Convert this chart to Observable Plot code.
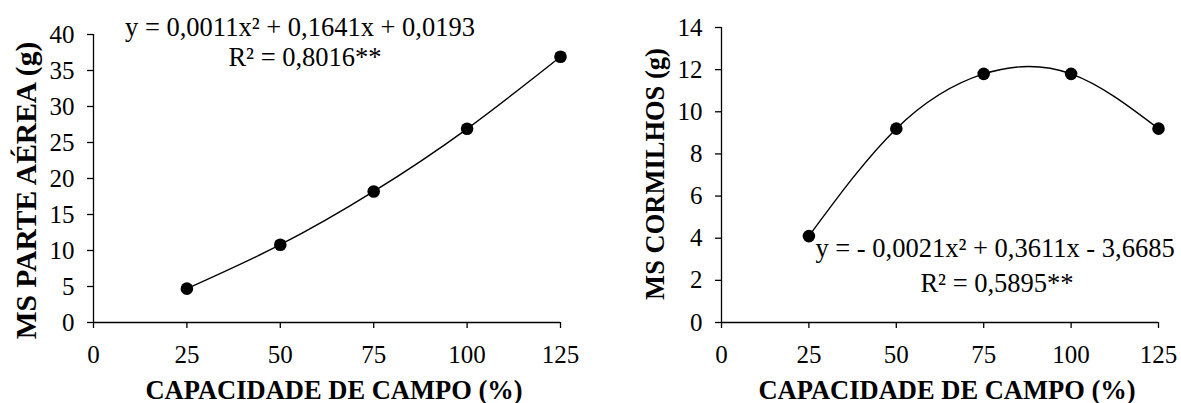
<!DOCTYPE html>
<html><head><meta charset="utf-8">
<script src="https://cdn.jsdelivr.net/npm/d3@7"></script>
<script src="https://cdn.jsdelivr.net/npm/@observablehq/plot@0.6"></script>
<style>
body{margin:0;background:#fff}
#wrap{display:flex;width:1181px;height:403px}
#wrap svg{display:block;overflow:visible}
#wrap svg, #wrap svg text, #wrap svg g{font-family:"Liberation Serif", serif !important}
</style></head><body><div id="wrap"></div>
<script>
const capacidade = [25, 50, 75, 100, 125];
const msParteAerea = [4.7, 10.8, 18.2, 26.9, 36.9];
const msCormilhos = [4.1, 9.2, 11.8, 11.8, 9.2];
const xTicks = [0, 25, 50, 75, 100, 125];
const yTicksParte = [0, 5, 10, 15, 20, 25, 30, 35, 40];
const yTicksCorm = [0, 2, 4, 6, 8, 10, 12, 14];
const xTitle = "CAPACIDADE DE CAMPO (%)";
const yTitleParte = "MS PARTE AÉREA (g)";
const yTitleCorm = "MS CORMILHOS (g)";
const eqParte = ["y = 0,0011x² + 0,1641x + 0,0193", "R² = 0,8016**"];
const eqCorm = ["y = - 0,0021x² + 0,3611x - 3,6685", "R² = 0,5895**"];

const FONT = "Liberation Serif";

function panel({values, yMax, yTicks, yTitle, eq, width, marginLeft, marginRight, marginTop, marginBottom, eqPos, yTitlePos, yTitleSize}) {
  const data = capacidade.map((c, i) => ({x: c, y: values[i]}));
  return Plot.plot({
    width, height: 403,
    marginLeft, marginRight, marginTop, marginBottom,
    style: {fontFamily: FONT, fontSize: "25px", color: "#000", background: "#fff", overflow: "visible"},
    x: {domain: [0, 125]},
    y: {domain: [0, yMax]},
    marks: [
      Plot.axisX({ticks: xTicks, tickSize: 6, tickPadding: 17, label: null, strokeWidth: 1.3, fontSize: 25, fontVariant: "normal"}),
      Plot.axisY({ticks: yTicks, tickSize: 6, tickPadding: 13, label: null, strokeWidth: 1.3, fontSize: 25, fontVariant: "normal"}),
      Plot.ruleY([0], {stroke: "#000", strokeWidth: 1.3}),
      Plot.ruleX([0], {stroke: "#000", strokeWidth: 1.3}),
      Plot.line(data, {x: "x", y: "y", curve: "natural", stroke: "#000", strokeWidth: 1.4}),
      Plot.dot(data, {x: "x", y: "y", r: 6.3, fill: "#000", stroke: null}),
      Plot.text([xTitle], {frameAnchor: "bottom", lineAnchor: "bottom", dx: 7, dy: 76, fontWeight: "bold", fontSize: 26.5, fill: "#000"}),
      Plot.text([yTitle], {frameAnchor: "left", rotate: -90, textAnchor: "middle", lineAnchor: "middle", dx: yTitlePos[0], dy: yTitlePos[1], fontWeight: "bold", fontSize: yTitleSize, fill: "#000"}),
      Plot.text([eq[0]], {frameAnchor: "top", lineAnchor: "bottom", dx: eqPos[0], dy: eqPos[1], fontSize: 26.5, fill: "#000"}),
      Plot.text([eq[1]], {frameAnchor: "top", lineAnchor: "bottom", dx: eqPos[2], dy: eqPos[3], fontSize: 26.5, fill: "#000"})
    ]
  });
}

const left = panel({
  values: msParteAerea, yMax: 40, yTicks: yTicksParte, yTitle: yTitleParte, eq: eqParte,
  width: 590, marginLeft: 93, marginRight: 30, marginTop: 34, marginBottom: 81,
  eqPos: [-27, 1, -22, 31], yTitlePos: [-67, 12], yTitleSize: 29.5
});
const right = panel({
  values: msCormilhos, yMax: 14, yTicks: yTicksCorm, yTitle: yTitleCorm, eq: eqCorm,
  width: 591, marginLeft: 131, marginRight: 23, marginTop: 27, marginBottom: 81,
  eqPos: [55, 229, 57, 264], yTitlePos: [-66, -1], yTitleSize: 26.5
});
document.getElementById("wrap").append(left, right);
</script></body></html>
